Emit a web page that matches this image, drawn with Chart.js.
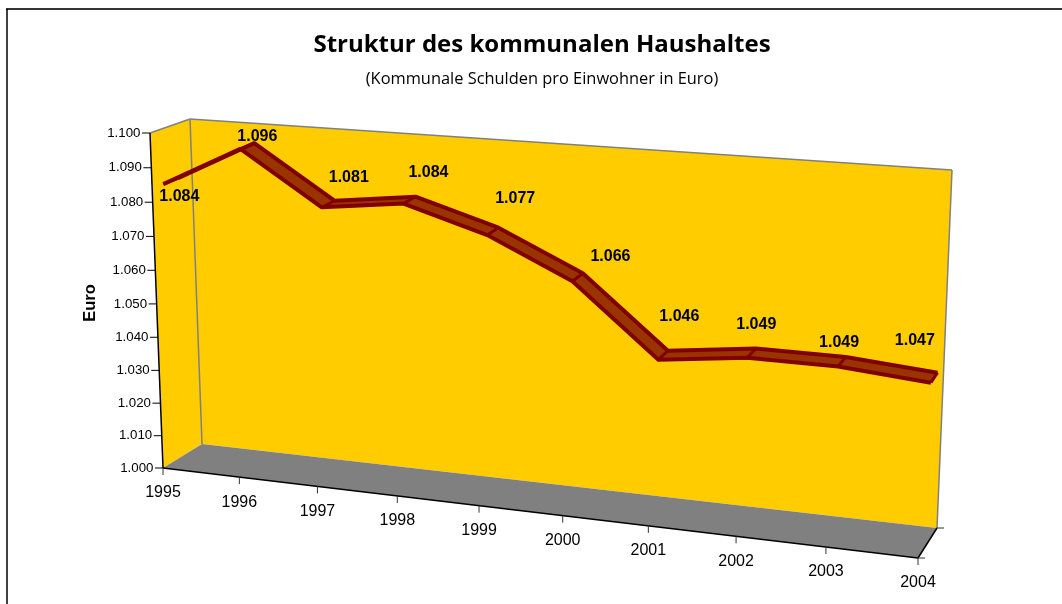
<!DOCTYPE html>
<html lang="de">
<head>
<meta charset="utf-8">
<title>Struktur des kommunalen Haushaltes</title>
<script src="https://cdn.jsdelivr.net/npm/chart.js@4/dist/chart.umd.js"></script>
<style>
  html, body { margin: 0; padding: 0; background: #fff; }
  canvas { display: block; }
</style>
</head>
<body>
<canvas id="chart" width="1062" height="604"></canvas>
<script>
const years = ['1995', '1996', '1997', '1998', '1999', '2000', '2001', '2002', '2003', '2004'];
const debtPerResident = [1084, 1096, 1081, 1084, 1077, 1066, 1046, 1049, 1049, 1047];
const yMin = 1000;
const yMax = 1100;
const yStep = 10;

// box corners on screen, named front/back + left/right + top/bottom
const FLB = [163, 468], FRB = [918, 558], BRB = [937, 528], BLB = [202, 444];
const FLT = [150, 133], FRT = [935, 193], BRT = [952, 170], BLT = [190, 119];

// where the label of each point sits, relative to the front edge of the ribbon
const labelNudges = [[16, 13], [17, -12], [27, -30], [25, -31], [28, -36], [38, -25], [21, -43], [9, -33], [1, -24], [-16, -42]];

const RIBBON_FRONT = 0.28;
const RIBBON_BACK = 0.65;
const PERSPECTIVE_X = 0.9;
const PERSPECTIVE_Y = 0.96;
const SANS = '"Liberation Sans", Arial, sans-serif';

function lerp(a, b, k) {
  return [a[0] + (b[0] - a[0]) * k, a[1] + (b[1] - a[1]) * k];
}

function foreshorten(k, f) {
  return f * k / (f * k + 1 - k);
}

// t along the years, v up the value axis, z into the depth
function project(t, v, z) {
  const w = foreshorten(t, PERSPECTIVE_X);
  const low = lerp(lerp(FLB, FRB, w), lerp(BLB, BRB, w), z);
  const high = lerp(lerp(FLT, FRT, w), lerp(BLT, BRT, w), z);
  return lerp(low, high, foreshorten(v, PERSPECTIVE_Y));
}

function norm(chart, x, y) {
  const area = chart.chartArea;
  return [(x - area.left) / (area.right - area.left), (area.bottom - y) / (area.bottom - area.top)];
}

function quad(ctx, pts, fill) {
  ctx.beginPath();
  pts.forEach((p, i) => (i ? ctx.lineTo(p[0], p[1]) : ctx.moveTo(p[0], p[1])));
  ctx.closePath();
  ctx.fillStyle = fill;
  ctx.fill();
}

function segment(ctx, a, b, color, width) {
  ctx.beginPath();
  ctx.moveTo(a[0], a[1]);
  ctx.lineTo(b[0], b[1]);
  ctx.strokeStyle = color;
  ctx.lineWidth = width;
  ctx.stroke();
}

function formatThousands(value) {
  const s = String(Math.round(value));
  return s.slice(0, -3) + '.' + s.slice(-3);
}

const box3d = {
  id: 'box3d',

  // move the points the scales have placed into the 3D box
  afterDatasetsUpdate(chart) {
    chart.data.datasets.forEach((ds, i) => {
      chart.getDatasetMeta(i).data.forEach(pt => {
        const n = norm(chart, pt.x, pt.y);
        const p = project(n[0], n[1], ds.depth);
        pt.x = p[0];
        pt.y = p[1];
      });
    });
  },

  beforeDatasetsDraw(chart) {
    const ctx = chart.ctx;
    ctx.save();

    // page frame, open on the right
    segment(ctx, [6, 9], [1062, 9], '#333', 2);
    segment(ctx, [7, 9], [7, 604], '#000', 1.5);

    // walls and floor
    quad(ctx, [FLB, FLT, BLT, BLB], '#ffcc00');
    quad(ctx, [BLB, BLT, BRT, BRB], '#ffcc00');
    quad(ctx, [FLB, BLB, BRB, FRB], '#808080');
    segment(ctx, FLT, BLT, '#808080', 1.5);
    segment(ctx, BLT, BRT, '#808080', 1.5);
    segment(ctx, BRT, BRB, '#808080', 1.5);
    segment(ctx, BLT, BLB, '#808080', 1.5);

    // axes
    segment(ctx, FLT, FLB, '#000', 1.5);
    segment(ctx, FLB, FRB, '#000', 1.5);
    segment(ctx, FRB, BRB, '#000', 1.5);
    segment(ctx, FRB, [FRB[0] + 7, FRB[1]], '#333', 1);
    segment(ctx, BRB, [BRB[0] + 7, BRB[1]], '#333', 1);

    ctx.fillStyle = '#000';
    ctx.textBaseline = 'middle';

    // value ticks
    const yScale = chart.scales.y;
    ctx.font = '13.3px ' + SANS;
    ctx.textAlign = 'right';
    yScale.ticks.forEach(tick => {
      const v = norm(chart, 0, yScale.getPixelForValue(tick.value))[1];
      const p = project(0, v, 0);
      segment(ctx, [p[0] - 8, p[1]], p, '#000', 1);
      ctx.fillText(tick.label, p[0] - 9.5, p[1]);
    });

    // year ticks
    const xScale = chart.scales.x;
    ctx.font = '16px ' + SANS;
    ctx.textAlign = 'center';
    chart.data.labels.forEach((label, i) => {
      const t = norm(chart, xScale.getPixelForValue(i), 0)[0];
      const p = project(t, 0, 0);
      segment(ctx, p, [p[0], p[1] + 7], '#333', 1);
      ctx.fillText(label, p[0], p[1] + 25);
    });

    // axis title
    ctx.font = 'bold 16.5px ' + SANS;
    ctx.translate(90, 303);
    ctx.rotate(-Math.PI / 2);
    ctx.fillText('Euro', 0, 0);
    ctx.restore();

    // ribbon faces, the edges come from the two line datasets
    const front = chart.getDatasetMeta(0).data;
    const back = chart.getDatasetMeta(1).data;
    ctx.save();
    for (let i = 0; i < front.length - 1; i++) {
      quad(ctx, [
        [front[i].x, front[i].y], [front[i + 1].x, front[i + 1].y],
        [back[i + 1].x, back[i + 1].y], [back[i].x, back[i].y],
      ], '#993300');
    }
    ctx.restore();
  },

  afterDatasetsDraw(chart) {
    const ctx = chart.ctx;
    const front = chart.getDatasetMeta(0).data;
    const back = chart.getDatasetMeta(1).data;
    ctx.save();
    front.forEach((pt, i) => {
      segment(ctx, [pt.x, pt.y], [back[i].x, back[i].y], '#800000', 3);
    });

    // value labels
    ctx.font = 'bold 16px ' + SANS;
    ctx.fillStyle = '#000';
    ctx.textAlign = 'center';
    ctx.textBaseline = 'middle';
    debtPerResident.forEach((value, i) => {
      ctx.fillText(formatThousands(value), front[i].x + labelNudges[i][0], front[i].y + labelNudges[i][1]);
    });
    ctx.restore();
  },
};

const ribbonEdge = depth => ({
  data: debtPerResident,
  depth,
  borderColor: '#800000',
  borderWidth: 4,
  borderJoinStyle: 'round',
  pointRadius: 0,
  fill: false,
  tension: 0,
  clip: false,
});

new Chart(document.getElementById('chart'), {
  type: 'line',
  data: {
    labels: years,
    datasets: [ribbonEdge(RIBBON_FRONT), ribbonEdge(RIBBON_BACK)],
  },
  plugins: [box3d],
  options: {
    responsive: false,
    animation: false,
    layout: { padding: { left: 22, top: 31, right: 0, bottom: 40 } },
    plugins: {
      legend: { display: false },
      tooltip: { enabled: false },
      title: {
        display: true,
        text: 'Struktur des kommunalen Haushaltes',
        color: '#000',
        font: { family: '"Open Sans", sans-serif', size: 24, weight: 'bold' },
        padding: { top: 0, bottom: 10 },
      },
      subtitle: {
        display: true,
        text: '(Kommunale Schulden pro Einwohner in Euro)',
        color: '#000',
        font: { family: '"Open Sans", sans-serif', size: 16.4 },
        padding: { top: 0, bottom: 10 },
      },
    },
    scales: {
      x: { display: false, offset: false, ticks: { autoSkip: false } },
      y: {
        display: false,
        min: yMin,
        max: yMax,
        ticks: { stepSize: yStep, callback: formatThousands },
      },
    },
  },
});
</script>
</body>
</html>
